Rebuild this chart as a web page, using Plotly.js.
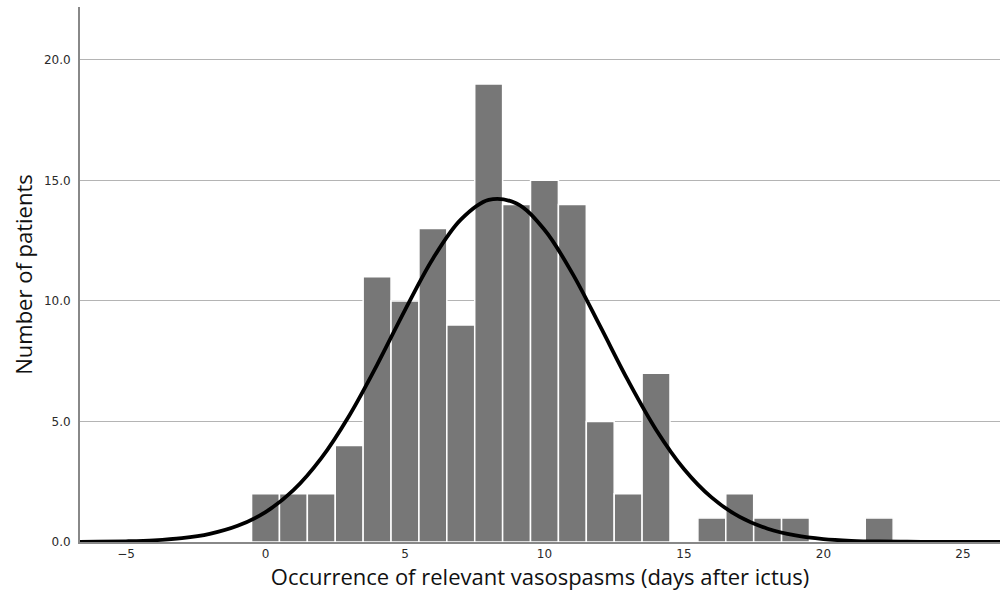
<!DOCTYPE html>
<html>
<head>
<meta charset="utf-8">
<script src="https://cdn.plot.ly/plotly-3.0.1.min.js"></script>
<style>html,body{margin:0;padding:0;background:#fff;}#chart{width:1000px;height:597px;}</style>
</head>
<body>
<div id="chart"></div>
<script>
// Histogram: days after ictus and number of patients
const days = [0,1,2,3,4,5,6,7,8,9,10,11,12,13,14,15,16,17,18,19,20,21,22];
const patients = [2,2,2,4,11,10,13,9,19,14,15,14,5,2,7,0,1,2,1,1,0,0,1];

// Fitted normal curve
const curveX = [-7,-6,-5,-4,-3,-2,-1,0,1,2,3,4,5,6,7,8,9,10,11,12,13,14,15,16,17,18,19,20,21,22,23,24,25,26,27];
const curveY = [0.004,0.01,0.03,0.07,0.16,0.34,0.67,1.24,2.15,3.48,5.24,7.35,9.62,11.75,13.37,14.19,14.04,12.95,11.14,8.94,6.69,4.66,3.03,1.84,1.04,0.55,0.27,0.12,0.05,0.02,0.01,0.004,0.001,0,0];

const yTicks = [0,5,10,15,20];
const yTickText = ["0.0","5.0","10.0","15.0","20.0"];
const xTicks = [-5,0,5,10,15,20,25];

const traces = [
  {
    type: 'bar', x: days, y: patients, width: 1,
    marker: {color: '#777777', line: {color: '#ffffff', width: 1.5}},
    hoverinfo: 'x+y'
  },
  {
    type: 'scatter', mode: 'lines', x: curveX, y: curveY,
    line: {color: '#000000', width: 3.8, shape: 'spline', smoothing: 1},
    hoverinfo: 'skip'
  }
];

const layout = {
  width: 1000, height: 597,
  margin: {l: 80, r: 0, t: 7, b: 55},
  paper_bgcolor: '#ffffff', plot_bgcolor: '#ffffff',
  showlegend: false,
  bargap: 0,
  font: {family: 'Liberation Sans, DejaVu Sans, sans-serif', color: '#222222'},
  xaxis: {
    range: [-6.65, 26.33],
    tickvals: xTicks, ticktext: xTicks.map(v => v < 0 ? '\u2212' + Math.abs(v) : String(v)),
    showgrid: false, zeroline: false,
    showline: true, linecolor: '#888888', linewidth: 2,
    ticks: '', tickfont: {family: 'DejaVu Sans, sans-serif', size: 12, color: '#2a2a2a'},
    title: {text: 'Occurrence of relevant vasospasms (days after ictus)',
            font: {family: 'Open Sans, sans-serif', size: 22, color: '#111111'}, standoff: 9}
  },
  yaxis: {
    range: [0, 22.19],
    tickvals: yTicks, ticktext: yTickText,
    showgrid: true, gridcolor: '#b4b4b4', gridwidth: 1.2,
    zeroline: false,
    showline: true, linecolor: '#888888', linewidth: 2,
    ticks: '', ticklabelstandoff: 5, tickfont: {family: 'DejaVu Sans, sans-serif', size: 12, color: '#2a2a2a'},
    title: {text: 'Number of patients',
            font: {family: 'Open Sans, sans-serif', size: 22, color: '#111111'}, standoff: 5}
  }
};

Plotly.newPlot('chart', traces, layout, {displayModeBar: false, staticPlot: true});
</script>
</body>
</html>
